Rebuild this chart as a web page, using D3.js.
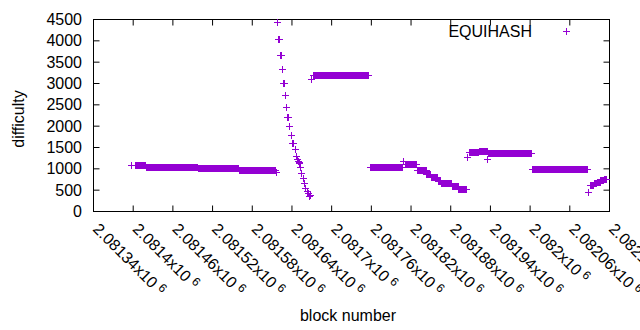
<!DOCTYPE html>
<html>
<head>
<meta charset="utf-8">
<script src="https://cdn.jsdelivr.net/npm/d3@7"></script>
<style>
  body { margin: 0; background: #fff; }
  svg { display: block; font-family: 'Liberation Sans', Arial, sans-serif; }
</style>
</head>
<body>
<div id="chart"></div>
<script>
// difficulty per block: every block from runFrom[i] to runTo[i] has runDifficulty[i]
const runFrom = [
  2081398, 2081403, 2081420, 2081498, 2081560, 2081616,
  2081618, 2081620, 2081623, 2081625, 2081627, 2081630, 2081632, 2081634,
  2081637, 2081639, 2081641, 2081645, 2081647, 2081649, 2081650, 2081651,
  2081652, 2081653, 2081655, 2081657, 2081659, 2081661, 2081663, 2081665,
  2081666, 2081668,
  2081670, 2081672,
  2081758, 2081809, 2081811, 2081830, 2081844, 2081851, 2081861, 2081866,
  2081882, 2081892,
  2081906, 2081908, 2081923, 2081936, 2081937,
  2082004, 2082088,
  2082092, 2082097, 2082102, 2082107, 2082112
];
const runTo = [
  2081398, 2081419, 2081497, 2081559, 2081615, 2081616,
  2081618, 2081621, 2081624, 2081625, 2081628, 2081630, 2081632, 2081635,
  2081637, 2081639, 2081642, 2081645, 2081647, 2081649, 2081650, 2081651,
  2081652, 2081653, 2081655, 2081657, 2081659, 2081661, 2081663, 2081665,
  2081667, 2081668,
  2081670, 2081756,
  2081807, 2081809, 2081829, 2081843, 2081850, 2081860, 2081865, 2081881,
  2081891, 2081904,
  2081906, 2081922, 2081935, 2081936, 2082002,
  2082086, 2082088,
  2082096, 2082101, 2082106, 2082111, 2082116
];
const runDifficulty = [
  1072, 1068, 1024, 1000, 954, 920,
  4437, 4024, 3656, 3320, 2992, 2711, 2445, 2196,
  1992, 1774, 1601, 1446, 1289, 1210, 1180, 1150,
  1120, 1038, 898, 781, 664, 547, 469, 414,
  352, 375,
  3094, 3176,
  1020, 1175, 1097, 954, 874, 790, 707, 649,
  586, 511,
  1265, 1378, 1411, 1219, 1350,
  977, 438,
  615, 660, 690, 720, 750
];
const yTicks = d3.range(0, 4501, 500);
const xTicks = d3.range(2081340, 2082121, 60);
const seriesName = 'EQUIHASH';

const W = 640, H = 330;
const color = '#9400d3';
const fontSize = 16;
const pLeft = 93.5, pRight = 609.5, pTop = 19.5, pBottom = 211.5;

const x = d3.scaleLinear().domain([2081340, 2082120]).range([pLeft, pRight]);
const y = d3.scaleLinear().domain([0, 4500]).range([pBottom, pTop]);

const svg = d3.select('#chart').append('svg')
  .attr('width', W).attr('height', H);

//expand the runs into one point per block
const points = [];
runFrom.forEach((b, i) => {
  for (let n = b; n <= runTo[i]; n++) points.push({ block: n, difficulty: runDifficulty[i] });
});

//ticks, all pointing into the plot
[[d3.axisBottom(x).tickValues(xTicks), pBottom], [d3.axisTop(x).tickValues(xTicks), pTop]]
  .forEach(([ax, pos]) => {
    svg.append('g')
      .attr('transform', `translate(0,${pos})`)
      .call(ax.offset(0).tickSize(-6).tickFormat(''))
      .call(g => g.select('.domain').remove())
      .call(g => g.selectAll('line').attr('stroke', '#000'));
  });
[[d3.axisLeft(y).tickValues(yTicks), pLeft], [d3.axisRight(y).tickValues(yTicks), pRight]]
  .forEach(([ax, pos]) => {
    svg.append('g')
      .attr('transform', `translate(${pos},0)`)
      .call(ax.offset(0).tickSize(-6).tickFormat(''))
      .call(g => g.select('.domain').remove())
      .call(g => g.selectAll('line').attr('stroke', '#000'));
  });

//border
svg.append('rect')
  .attr('x', pLeft).attr('y', pTop)
  .attr('width', pRight - pLeft).attr('height', pBottom - pTop)
  .attr('fill', 'none').attr('stroke', '#000');

//y tick labels
svg.append('g').selectAll('text').data(yTicks).join('text')
  .attr('x', 82)
  .attr('y', d => y(d) + 5.5)
  .attr('text-anchor', 'end')
  .attr('font-size', fontSize)
  .text(d => d);

//x tick labels, rotated
const xl = svg.append('g').selectAll('text').data(xTicks).join('text')
  .attr('transform', d => `translate(${x(d) - 1.5},${pBottom + 18.5}) rotate(45)`)
  .attr('font-size', fontSize);
xl.append('tspan').text(d => +(d / 1e6).toFixed(5) + 'x10');
xl.append('tspan').attr('dx', 4).attr('dy', -5).attr('font-size', 12).text('6');

//axis titles
svg.append('text')
  .attr('x', 348).attr('y', 321)
  .attr('text-anchor', 'middle')
  .attr('font-size', fontSize)
  .text('block number');
svg.append('text')
  .attr('transform', 'translate(23.5,119) rotate(-90)')
  .attr('text-anchor', 'middle')
  .attr('font-size', fontSize)
  .text('difficulty');

//plus markers
const plus = (cx, cy) => `M${cx - 3.5},${cy}h7M${cx},${cy - 3.5}v7`;
const snap = v => Math.round(v - 0.5) + 0.5;
svg.append('path')
  .attr('d', points.map(d => plus(snap(x(d.block)), snap(y(d.difficulty)))).join(''))
  .attr('fill', 'none')
  .attr('stroke', color)
  .attr('stroke-width', 1);

//legend
svg.append('text')
  .attr('x', 532).attr('y', 37)
  .attr('text-anchor', 'end')
  .attr('font-size', fontSize)
  .text(seriesName);
svg.append('path')
  .attr('d', plus(566.5, 31.5))
  .attr('fill', 'none')
  .attr('stroke', color);
</script>
</body>
</html>
